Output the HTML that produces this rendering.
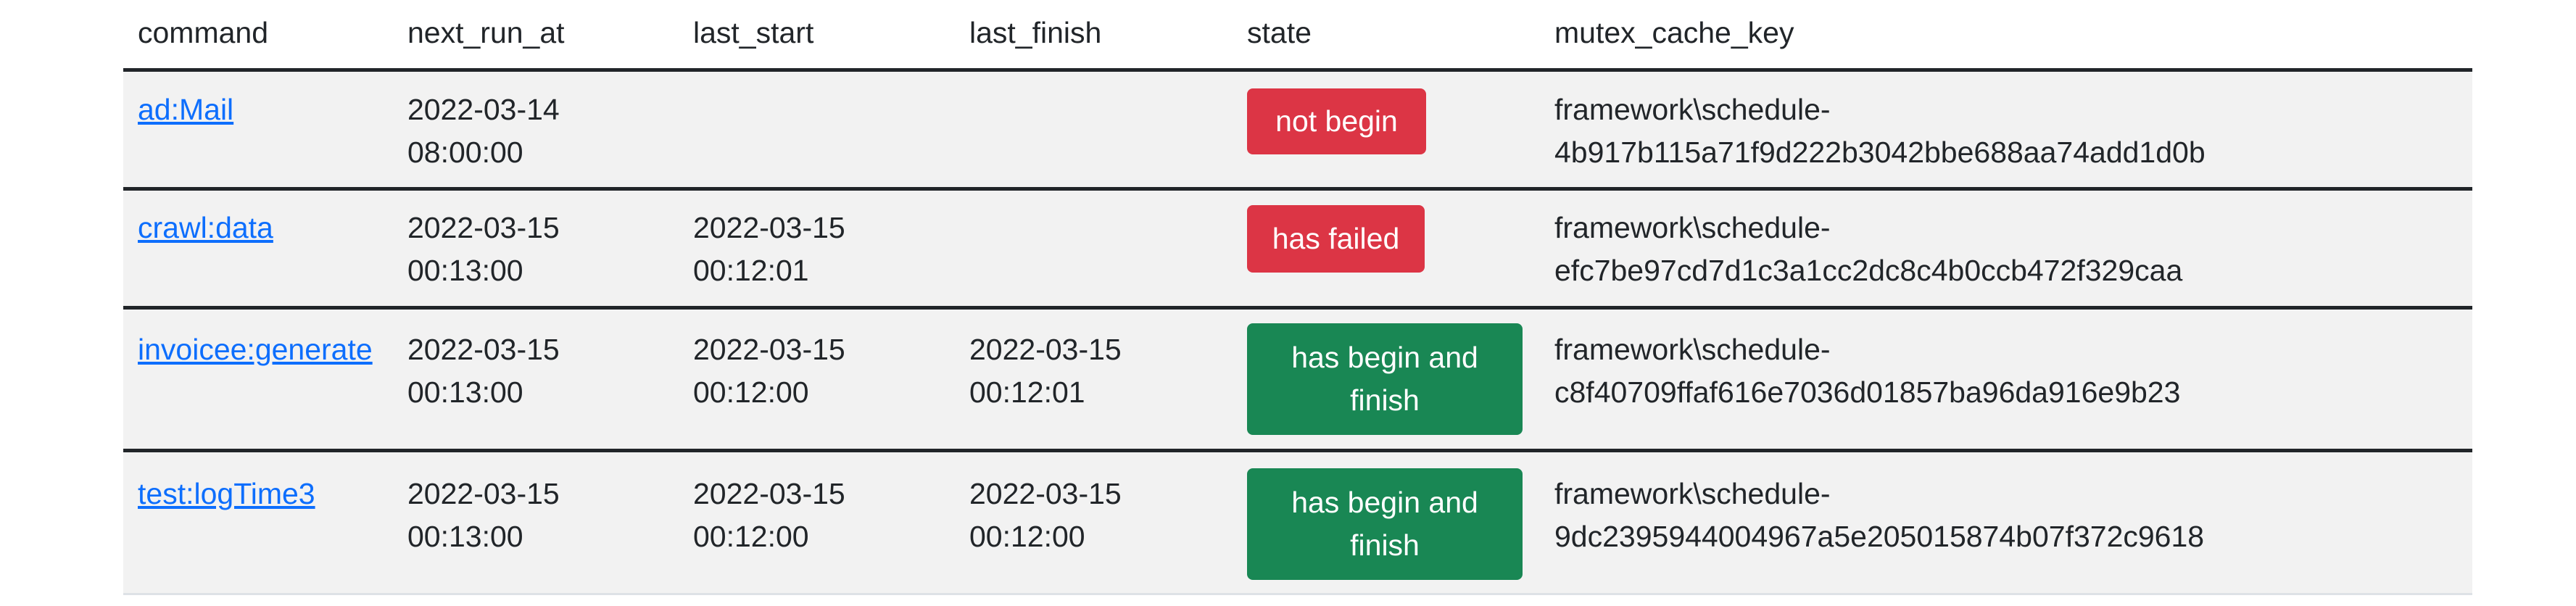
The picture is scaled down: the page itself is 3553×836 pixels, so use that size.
<!DOCTYPE html>
<html><head><meta charset="utf-8"><style>
body{margin:0;width:3553px;height:836px;background:#fff;position:relative;overflow:hidden;font-family:"Liberation Sans",sans-serif;font-size:41px;color:#212529}
.t{position:absolute;white-space:nowrap;line-height:59px}
.row{position:absolute;left:170px;width:3240px;background:#f2f2f2}
.ln{position:absolute;left:170px;width:3240px;height:5px;background:#212529}
a{color:#0d6efd;text-decoration:underline}
.b{position:absolute;color:#fff;border-radius:8px;text-align:center;display:flex;align-items:center;justify-content:center;line-height:59px}
.r{background:#dc3545}.g{background:#198754}
</style></head><body>
<div class="row" style="top:95px;height:163px"></div>
<div class="row" style="top:263px;height:161px"></div>
<div class="row" style="top:424px;height:197px"></div>
<div class="row" style="top:621px;height:199px"></div>
<div class="ln" style="top:94px"></div>
<div class="ln" style="top:258px"></div>
<div class="ln" style="top:422px"></div>
<div class="ln" style="top:619px"></div>
<div style="position:absolute;left:170px;width:3240px;top:818px;height:3px;background:#dee2e6"></div>

<div class="t" style="left:190px;top:16px">command</div>
<div class="t" style="left:562px;top:16px">next_run_at</div>
<div class="t" style="left:956px;top:16px">last_start</div>
<div class="t" style="left:1337px;top:16px">last_finish</div>
<div class="t" style="left:1720px;top:16px">state</div>
<div class="t" style="left:2144px;top:16px">mutex_cache_key</div>

<div class="t" style="left:190px;top:122px"><a>ad:Mail</a></div>
<div class="t" style="left:562px;top:122px">2022-03-14<br>08:00:00</div>
<div class="b r" style="left:1720px;top:122px;width:247px;height:91px">not begin</div>
<div class="t" style="left:2144px;top:122px">framework\schedule-<br>4b917b115a71f9d222b3042bbe688aa74add1d0b</div>

<div class="t" style="left:190px;top:285px"><a>crawl:data</a></div>
<div class="t" style="left:562px;top:285px">2022-03-15<br>00:13:00</div>
<div class="t" style="left:956px;top:285px">2022-03-15<br>00:12:01</div>
<div class="b r" style="left:1720px;top:283px;width:245px;height:93px">has failed</div>
<div class="t" style="left:2144px;top:285px">framework\schedule-<br>efc7be97cd7d1c3a1cc2dc8c4b0ccb472f329caa</div>

<div class="t" style="left:190px;top:453px"><a>invoicee:generate</a></div>
<div class="t" style="left:562px;top:453px">2022-03-15<br>00:13:00</div>
<div class="t" style="left:956px;top:453px">2022-03-15<br>00:12:00</div>
<div class="t" style="left:1337px;top:453px">2022-03-15<br>00:12:01</div>
<div class="b g" style="left:1720px;top:446px;width:380px;height:154px">has begin and<br>finish</div>
<div class="t" style="left:2144px;top:453px">framework\schedule-<br>c8f40709ffaf616e7036d01857ba96da916e9b23</div>

<div class="t" style="left:190px;top:652px"><a>test:logTime3</a></div>
<div class="t" style="left:562px;top:652px">2022-03-15<br>00:13:00</div>
<div class="t" style="left:956px;top:652px">2022-03-15<br>00:12:00</div>
<div class="t" style="left:1337px;top:652px">2022-03-15<br>00:12:00</div>
<div class="b g" style="left:1720px;top:646px;width:380px;height:154px">has begin and<br>finish</div>
<div class="t" style="left:2144px;top:652px">framework\schedule-<br>9dc2395944004967a5e205015874b07f372c9618</div>
</body></html>
